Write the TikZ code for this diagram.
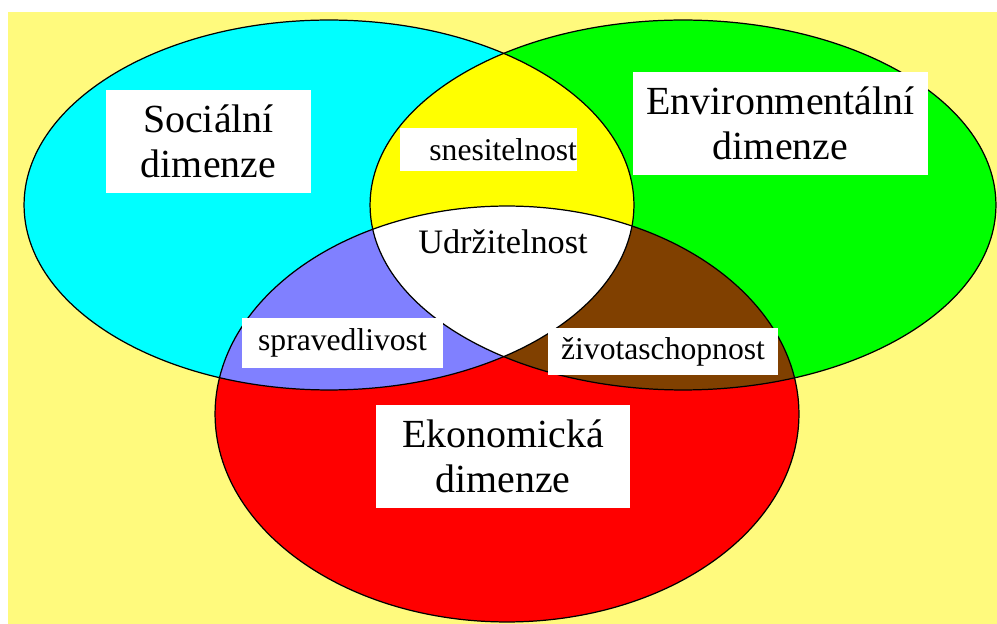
\documentclass[tikz,border=0pt]{standalone}
\usepackage{fontspec}
\setmainfont{Liberation Serif}

\definecolor{bgyellow}{RGB}{255,250,125}
\definecolor{socblue}{RGB}{0,255,255}
\definecolor{envgreen}{RGB}{0,255,0}
\definecolor{ekored}{RGB}{255,0,0}
\definecolor{midyellow}{RGB}{255,255,0}
\definecolor{midviolet}{RGB}{128,128,255}
\definecolor{midbrown}{RGB}{128,64,0}

\begin{document}
\begin{tikzpicture}[x=0.02cm, y=-0.02cm,
    bigbox/.style={fill=white, inner sep=0pt, align=center,
        font=\rmfamily\fontsize{22.7}{25.5}\selectfont, minimum height=2.06cm},
    smallbox/.style={fill=white, inner sep=0pt, align=center,
        font=\rmfamily\fontsize{18}{21}\selectfont}]
    % Page and background
    \useasboundingbox (0, 0) rectangle (997, 624);
    \fill[white] (0, 0) rectangle (997, 624);
    \fill[bgyellow] (8, 12) rectangle (997, 624);

    % Three dimensions (plain fills)
    \fill[socblue] (329, 205) ellipse [x radius=6.1cm, y radius=3.7cm];
    \fill[envgreen] (683, 205) ellipse [x radius=6.26cm, y radius=3.7cm];
    \fill[ekored] (507, 414) ellipse [x radius=5.84cm, y radius=4.16cm];

    % Overlaps of two
    \begin{scope}
        \clip (329, 205) ellipse [x radius=6.1cm, y radius=3.7cm];
        \fill[midyellow] (683, 205) ellipse [x radius=6.26cm, y radius=3.7cm];
        \fill[midviolet] (507, 414) ellipse [x radius=5.84cm, y radius=4.16cm];
    \end{scope}
    \begin{scope}
        \clip (683, 205) ellipse [x radius=6.26cm, y radius=3.7cm];
        \fill[midbrown] (507, 414) ellipse [x radius=5.84cm, y radius=4.16cm];
    \end{scope}
    % Overlap of all three
    \begin{scope}
        \clip (329, 205) ellipse [x radius=6.1cm, y radius=3.7cm];
        \clip (683, 205) ellipse [x radius=6.26cm, y radius=3.7cm];
        \fill[white] (507, 414) ellipse [x radius=5.84cm, y radius=4.16cm];
    \end{scope}

    % Outlines
    \draw[line width=0.7pt] (329, 205) ellipse [x radius=6.1cm, y radius=3.7cm];
    \draw[line width=0.7pt] (683, 205) ellipse [x radius=6.26cm, y radius=3.7cm];
    \draw[line width=0.7pt] (507, 414) ellipse [x radius=5.84cm, y radius=4.16cm];

    % Labels
    \node[bigbox, minimum width=4.1cm] (social) at (208.5, 141.5) {Sociální\\dimenze};
    \node[bigbox, minimum width=5.9cm] (environ) at (780.5, 123.5) {Environmentální\\dimenze};
    \node[bigbox, minimum width=5.08cm] (econ) at (503, 456.5) {Ekonomická\\dimenze};

    \node[smallbox, text width=3.54cm, align=right, minimum height=0.86cm] (bearable) at (488.5, 150) {snesitelnost\hspace*{0.06cm}};
    \node[smallbox, minimum width=4.02cm, minimum height=1.0cm] (equitable) at (342.5, 343) {spravedlivost};
    \node[smallbox, minimum width=4.6cm, minimum height=0.94cm] (viable) at (663, 351.5) {životaschopnost};

    \node[font=\rmfamily\fontsize{19.5}{22}\selectfont, inner sep=0pt] (sustain) at (503, 242) {Udržitelnost};
\end{tikzpicture}
\end{document}
